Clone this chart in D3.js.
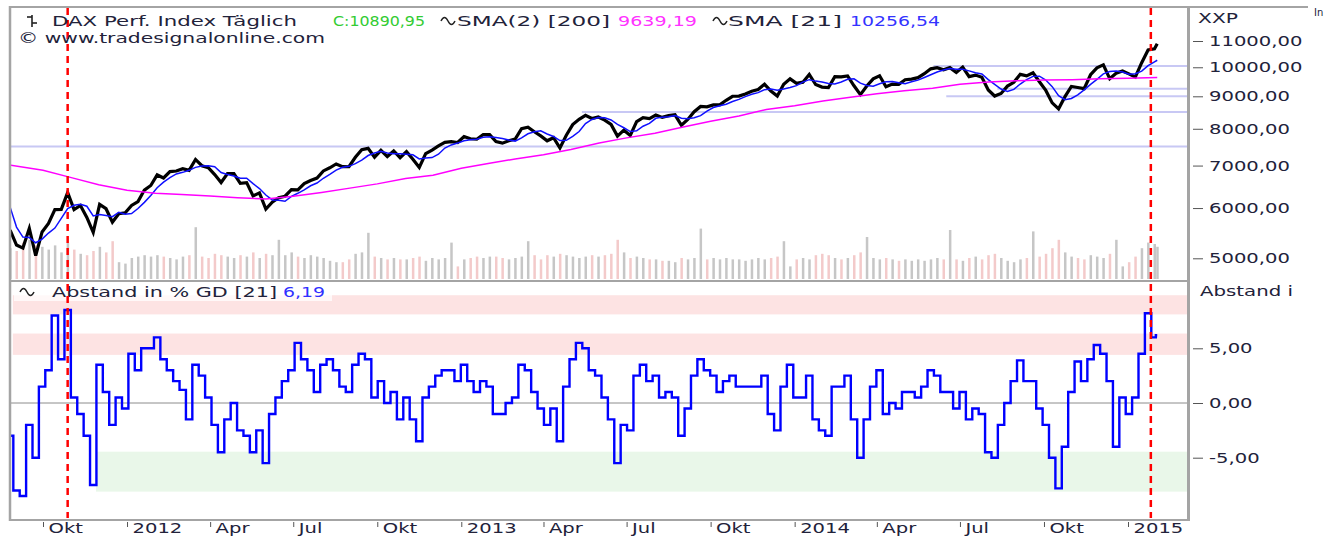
<!DOCTYPE html>
<html>
<head>
<meta charset="utf-8">
<script src="https://cdn.jsdelivr.net/npm/d3@7"></script>
<style>
    body { margin: 0; background: #fff; }
    svg { display: block; }
    text { font-family: "DejaVu Sans", Verdana, sans-serif; font-size: 14.5px; fill: #22223a; }
</style>
</head>
<body>
<svg id="chart" width="1334" height="537"></svg>
<script>
// DAX Tageschart: Kurs, GD 21 / GD 200, Volumen und Abstand in % zum GD 21

const SX = 1.35; // Schrift im Original horizontal gestreckt

// Wochenschluss ab 26.08.2011, letzter Wert 02.02.2015
const closeValues = [
    5538, 5246, 5189, 5574, 5050, 5502, 5676, 5967, 5970, 6346, 5966, 6057, 5800, 5493, 6080, 5986, 5702, 5878, 5898,
    6057, 6143, 6404, 6512, 6766, 6692, 6849, 6864, 6921, 6880, 7157, 6996, 6947, 6775, 6583, 6801, 6801, 6561, 6579, 6271,
    6339, 5978, 6130, 6229, 6263, 6416, 6410, 6557, 6630, 6689, 6865, 6944, 7040, 6972, 6970, 7214, 7412, 7451, 7216, 7398,
    7233, 7380, 7204, 7363, 7163, 6950, 7309, 7405, 7518, 7614, 7636, 7612,
    7776, 7715, 7702, 7833, 7833, 7634, 7593, 7661, 7708, 8003, 8043, 7913, 7795, 7658, 7745, 7459, 7815, 8122, 8278, 8398,
    8305, 8348, 8254, 8127, 7789, 7959, 7806, 8212, 8331, 8300, 8410, 8337, 8391, 8416, 8103, 8276, 8510, 8675, 8661, 8725,
    8725, 8870, 9001, 9007, 9078, 9168, 9225, 9405, 9172, 9006, 9400, 9589,
    9435, 9473, 9742, 9392, 9306, 9291, 9663, 9656, 9692, 9350, 9056, 9342, 9588, 9695, 9315, 9409, 9401, 9556, 9581, 9630,
    9768, 9943, 9987, 9912, 9987, 9815, 10009, 9666, 9720, 9644, 9210, 9009, 9092, 9339, 9470, 9747, 9691, 9799, 9490, 9195,
    8788, 8600, 8988, 9326, 9291, 9252, 9733, 9980, 10087, 9594, 9787, 9865,
    9765, 9648, 10168, 10649, 10694, 10891
];

const sma21Values = [
    6020, 5600, 5400, 5390, 5290, 5360, 5480, 5580, 5780, 5990, 6060, 6085, 6040, 5830, 5860, 5840, 5815, 5910, 5865,
    5880, 5990, 6125, 6280, 6460, 6590, 6700, 6790, 6830, 6880, 6955, 6990, 6995, 6970, 6825, 6775, 6740, 6685, 6685, 6555,
    6440, 6290, 6180, 6170, 6150, 6260, 6330, 6410, 6505, 6570, 6685, 6780, 6885, 6955, 6980, 7050, 7140, 7260, 7325, 7370,
    7325, 7305, 7305, 7295, 7280, 7170, 7195, 7205, 7295, 7460, 7545, 7595,
    7660, 7685, 7700, 7755, 7770, 7750, 7725, 7680, 7650, 7740, 7855, 7915, 7940, 7850, 7780, 7665, 7670, 7785, 7920, 8150,
    8275, 8330, 8325, 8260, 8130, 8030, 7920, 7940, 8075, 8160, 8310, 8345, 8360, 8390, 8310, 8295, 8325, 8390, 8530, 8640,
    8695, 8745, 8830, 8900, 8990, 9065, 9120, 9220, 9240, 9200, 9245, 9290,
    9355, 9475, 9560, 9510, 9480, 9430, 9410, 9480, 9575, 9590, 9440, 9360, 9335, 9420, 9485, 9500, 9455, 9420, 9485, 9545,
    9635, 9730, 9830, 9900, 9955, 9925, 9930, 9870, 9800, 9760, 9560, 9395, 9240, 9160, 9230, 9410, 9560, 9675, 9680, 9545,
    9320, 9020, 8890, 8930, 9050, 9215, 9400, 9570, 9765, 9850, 9865, 9830,
    9750, 9770, 9860, 10060, 10200, 10257
];

const abstandValues = [
    -3.0, -8.0, -8.5, -2.0, -5.0, 1.5, 3.0, 8.0, 4.0, 8.5, 0.5, -1.0, -3.0, -7.5, 3.5, 1.0, -2.0, 0.5, -0.5,
    4.5, 3.0, 5.0, 5.0, 6.0, 4.0, 3.0, 2.0, 1.2, -1.5, 3.5, 2.5, 0.5, -2.0, -4.5, -1.5, 0.0, -2.5, -3.0, -4.5,
    -2.5, -5.5, -1.0, 0.5, 2.0, 3.0, 5.5, 4.0, 3.0, 1.0, 3.5, 4.0, 3.0, 1.5, 1.0, 3.5, 4.5, 4.0, 0.5, 2.0,
    0.0, 1.0, -1.5, 0.5, -1.5, -3.5, 0.5, 1.5, 2.5, 3.0, 3.0, 2.0,
    3.5, 2.0, 1.0, 2.0, 1.5, -1.0, -1.0, 0.0, 0.5, 3.5, 3.0, 1.0, -0.5, -2.0, -0.5, -3.5, 1.5, 4.0, 5.5, 5.0,
    3.0, 2.5, 0.5, -1.5, -5.5, -2.0, -2.5, 2.5, 3.5, 2.0, 2.5, 0.5, 1.0, 0.5, -3.0, -0.5, 2.5, 4.0, 3.0, 2.5,
    1.0, 2.0, 2.5, 1.5, 1.5, 1.5, 1.5, 2.5, -1.0, -2.5, 1.5, 3.5,
    0.5, 0.5, 2.5, -1.5, -2.5, -3.0, 1.5, 1.5, 2.5, -1.5, -5.0, -1.5, 1.5, 3.0, -1.0, 0.0, -0.5, 1.0, 1.0, 0.5,
    1.5, 3.0, 2.5, 1.0, 1.0, -0.5, 1.0, -1.5, -0.5, -1.0, -4.5, -5.0, -2.0, 0.0, 2.0, 3.9, 2.0, 2.0, -0.5, -2.0,
    -5.0, -7.8, -4.0, 1.0, 3.8, 2.0, 4.0, 5.3, 4.5, 2.0, -4.0, 0.5,
    -1.0, 0.5, 4.5, 8.2, 6.0, 6.19
];

const volumeValues = [
    110, 100, 130, 140, 120, 115, 105, 120, 95, 130, 105, 90, 85, 100, 115, 95, 135, 60, 55,
    75, 80, 85, 80, 85, 80, 75, 70, 80, 85, 185, 80, 75, 90, 85, 80, 75, 85, 80, 95,
    75, 90, 85, 140, 85, 95, 80, 75, 85, 80, 75, 65, 60, 60, 70, 90, 95, 165, 80, 75,
    70, 75, 70, 70, 75, 80, 65, 75, 70, 75, 130, 45,
    70, 75, 80, 75, 80, 80, 75, 70, 75, 80, 135, 85, 70, 85, 80, 90, 85, 80, 75, 80,
    85, 80, 85, 90, 140, 95, 75, 80, 75, 70, 70, 65, 65, 60, 75, 70, 75, 180, 70, 75,
    70, 75, 70, 70, 65, 70, 75, 70, 75, 80, 135, 45,
    70, 75, 70, 85, 90, 85, 75, 70, 75, 85, 95, 150, 75, 70, 75, 70, 65, 70, 65, 70,
    65, 70, 75, 70, 175, 70, 65, 75, 80, 70, 85, 90, 75, 65, 60, 70, 75, 170, 80, 90,
    110, 140, 95, 80, 75, 70, 85, 80, 75, 90, 140, 45,
    60, 80, 110, 130, 125, 115
];

const sma200Dates = [
    '2011-08-26', '2011-10-01', '2011-11-01', '2011-12-01', '2012-01-01', '2012-02-01', '2012-03-01', '2012-04-01',
    '2012-05-01', '2012-06-01', '2012-07-01', '2012-08-01', '2012-09-01', '2012-10-01', '2012-11-01', '2012-12-01',
    '2013-01-01', '2013-02-01', '2013-03-01', '2013-04-01', '2013-05-01', '2013-06-01', '2013-07-01', '2013-08-01',
    '2013-09-01', '2013-10-01', '2013-11-01', '2013-12-01', '2014-01-01', '2014-02-01', '2014-03-01', '2014-04-01',
    '2014-05-01', '2014-06-01', '2014-07-01', '2014-08-01', '2014-09-01', '2014-10-01', '2014-11-01', '2014-12-01',
    '2015-01-01', '2015-02-02'
];
const sma200Values = [
    7010, 6880, 6700, 6530, 6400, 6330, 6300, 6270,
    6230, 6200, 6260, 6350, 6450, 6550, 6680, 6760,
    6930, 7060, 7170, 7280, 7420, 7600, 7740, 7870,
    8050, 8220, 8380, 8580, 8700, 8850, 8960, 9080,
    9180, 9270, 9400, 9480, 9520, 9550, 9560, 9590,
    9610, 9639
];

// horizontale Marken im Kurschart
const levelValues = [7500, 8500, 9000, 9250, 10050];
const levelStarts = ['2011-08-26', '2013-05-13', '2014-06-16', '2014-08-11', '2014-06-02'];

// Zonen im Oszillator
const bandLow = [8.1, 4.4, -8.1];
const bandHigh = [9.85, 6.35, -4.45];
const bandStarts = ['2011-08-29', '2011-08-29', '2011-11-28'];
const bandColors = ['#fde3e3', '#fde3e3', '#e9f7e9'];

const markerDates = ['2011-10-28', '2015-01-26'];

const tickDates = ['2011-10-01', '2012-01-01', '2012-04-01', '2012-07-01', '2012-10-01', '2013-01-01', '2013-04-01',
    '2013-07-01', '2013-10-01', '2014-01-01', '2014-04-01', '2014-07-01', '2014-10-01', '2015-01-01'];
const tickLabels = ['Okt', '2012', 'Apr', 'Jul', 'Okt', '2013', 'Apr', 'Jul', 'Okt', '2014', 'Apr', 'Jul', 'Okt', '2015'];

const priceTicks = [5000, 6000, 7000, 8000, 9000, 10000, 11000];
const abstandTicks = [5, 0, -5];

// ---------------------------------------------------------------

const parse = d3.timeParse('%Y-%m-%d');
const firstFriday = parse('2011-08-26');
const dates = closeValues.map((v, i) =>
    i < closeValues.length - 1 ? d3.timeWeek.offset(firstFriday, i) : parse('2015-02-02'));

const plotLeft = 11, plotRight = 1187;
const priceTop = 8, priceBottom = 280;
const oscTop = 282, oscBottom = 518;

const de = d3.formatLocale({ decimal: ',', thousands: '.', grouping: [3], currency: ['', ' €'], minus: '-' });
const fmt = de.format('.2f');

const x = d3.scaleTime()
    .domain([parse('2011-10-01'), parse('2015-01-01')])
    .range([43, 1128]);
const y = d3.scaleLog()
    .domain([5000, 11000])
    .range([258.3, 41]);
const yVol = d3.scaleLinear()
    .domain([0, 200])
    .range([priceBottom - 1, priceBottom - 57]);
const yOsc = d3.scaleLinear()
    .domain([-5, 5])
    .range([457.7, 348.3]);

const svg = d3.select('#chart');
const defs = svg.append('defs');
defs.append('clipPath').attr('id', 'clipPrice')
    .append('rect').attr('x', plotLeft).attr('y', priceTop)
    .attr('width', plotRight - plotLeft).attr('height', priceBottom - priceTop);
defs.append('clipPath').attr('id', 'clipOsc')
    .append('rect').attr('x', plotLeft).attr('y', oscTop)
    .attr('width', plotRight - plotLeft).attr('height', oscBottom - oscTop);

// Text mit Streckung; len = Breite im Bild
function addText(parent, px, py, str, color, len) {
    const t = parent.append('text')
        .attr('transform', `translate(${px},${py}) scale(${SX},1)`)
        .style('fill', color || '#22223a')
        .text(str);
    if (len) {
        t.attr('textLength', len / SX).attr('lengthAdjust', 'spacingAndGlyphs');
    }
    return t;
}

function wave(parent, px, py) {
    parent.append('path')
        .attr('d', `M${px},${py} q3.5,-7 7,0 t7,0`)
        .attr('fill', 'none')
        .attr('stroke', '#222')
        .attr('stroke-width', 1.5);
}

// ---------- Kurspanel ----------
const price = svg.append('g').attr('clip-path', 'url(#clipPrice)');

// Volumen
price.selectAll('rect.vol')
    .data(volumeValues)
    .enter().append('rect')
    .attr('class', 'vol')
    .attr('x', (d, i) => x(dates[i]) - 1)
    .attr('width', 2.5)
    .attr('y', d => yVol(d))
    .attr('height', d => yVol(0) - yVol(d))
    .attr('fill', (d, i) => i > 0 && closeValues[i] < closeValues[i - 1] ? '#f3caca' : '#c6c6c6');

// Marken
price.selectAll('line.level')
    .data(levelValues)
    .enter().append('line')
    .attr('class', 'level')
    .attr('x1', (d, i) => x(parse(levelStarts[i])))
    .attr('x2', plotRight)
    .attr('y1', d => y(d))
    .attr('y2', d => y(d))
    .attr('stroke', '#c8c8f4')
    .attr('stroke-width', 2);

const lineOf = (values, dts) => d3.line()
    .x((d, i) => x(dts[i]))
    .y(d => y(d))(values);

price.append('path')
    .attr('d', lineOf(closeValues, dates))
    .attr('fill', 'none')
    .attr('stroke', '#000')
    .attr('stroke-width', 3.2);

price.append('path')
    .attr('d', lineOf(sma21Values, dates))
    .attr('fill', 'none')
    .attr('stroke', '#1010ff')
    .attr('stroke-width', 1.5);

price.append('path')
    .attr('d', lineOf(sma200Values, sma200Dates.map(parse)))
    .attr('fill', 'none')
    .attr('stroke', '#ff00ff')
    .attr('stroke-width', 1.5);

// ---------- Oszillator ----------
const osc = svg.append('g').attr('clip-path', 'url(#clipOsc)');

osc.selectAll('rect.band')
    .data(bandLow)
    .enter().append('rect')
    .attr('class', 'band')
    .attr('x', (d, i) => x(parse(bandStarts[i])))
    .attr('width', (d, i) => plotRight - x(parse(bandStarts[i])))
    .attr('y', (d, i) => yOsc(bandHigh[i]))
    .attr('height', (d, i) => yOsc(d) - yOsc(bandHigh[i]))
    .attr('fill', (d, i) => bandColors[i]);

osc.append('line')
    .attr('x1', plotLeft).attr('x2', plotRight)
    .attr('y1', yOsc(0)).attr('y2', yOsc(0))
    .attr('stroke', '#8c8c8c')
    .attr('stroke-width', 1);

osc.append('path')
    .attr('d', d3.line()
        .x((d, i) => x(dates[i]))
        .y(d => yOsc(d))
        .curve(d3.curveStep)(abstandValues))
    .attr('fill', 'none')
    .attr('stroke', '#0000ff')
    .attr('stroke-width', 2.4);

// Legende Oszillator
osc.append('rect')
    .attr('x', 14).attr('y', oscTop + 1)
    .attr('width', 318).attr('height', 18)
    .attr('fill', '#fff').attr('fill-opacity', 0.75);
wave(svg, 20, 292);
addText(svg, 52, 297, 'Abstand in % GD [21]', null, 225);
addText(svg, 283, 297, '6,19', '#3030ff', 42);

// rote Markierungen
svg.selectAll('line.marker')
    .data(markerDates)
    .enter().append('line')
    .attr('class', 'marker')
    .attr('x1', d => x(parse(d)))
    .attr('x2', d => x(parse(d)))
    .attr('y1', priceTop)
    .attr('y2', oscBottom)
    .attr('stroke', '#ff0000')
    .attr('stroke-width', 2.5)
    .attr('stroke-dasharray', '7,5');

// ---------- Rahmen ----------
const frame = svg.append('g')
    .attr('stroke', '#a4a4a4')
    .attr('fill', 'none');
frame.append('line').attr('x1', 10).attr('x2', 10).attr('y1', 6).attr('y2', 521).attr('stroke-width', 2.5);
frame.append('line').attr('x1', 9).attr('x2', 1308).attr('y1', 7).attr('y2', 7).attr('stroke-width', 2);
frame.append('line').attr('x1', 1188.5).attr('x2', 1188.5).attr('y1', 6).attr('y2', 521).attr('stroke-width', 3);
frame.append('line').attr('x1', 9).attr('x2', 1190).attr('y1', 281).attr('y2', 281).attr('stroke-width', 2);
frame.append('line').attr('x1', 9).attr('x2', 1190).attr('y1', 520).attr('y2', 520).attr('stroke-width', 2);

// ---------- Achsen ----------
const styleAxis = (g, dx) => {
    g.select('.domain').remove();
    g.selectAll('.tick line').attr('stroke', '#555');
    g.selectAll('.tick text')
        .attr('x', dx / SX)
        .attr('transform', `scale(${SX},1)`)
        .style('font-size', '14.5px')
        .style('fill', '#22223a')
        .attr('font-family', null);
};

svg.append('g')
    .attr('transform', 'translate(1193,0)')
    .call(d3.axisRight(y).tickValues(priceTicks).tickFormat(fmt).tickSize(10))
    .call(g => styleAxis(g, 16));

svg.append('g')
    .attr('transform', 'translate(1193,0)')
    .call(d3.axisRight(yOsc).tickValues(abstandTicks).tickFormat(fmt).tickSize(10))
    .call(g => styleAxis(g, 16));

svg.append('g')
    .attr('transform', 'translate(0,522)')
    .call(d3.axisBottom(x).tickValues(tickDates.map(parse)).tickFormat((d, i) => tickLabels[i]).tickSize(5))
    .call(g => {
        styleAxis(g, 5);
        g.selectAll('.tick text')
            .attr('text-anchor', 'start')
            .attr('y', 11)
            .attr('dy', 0);
    });

addText(svg, 1198, 23, 'XXP', null, 40);
addText(svg, 1200, 296, 'Abstand i', null, 93);
svg.append('text')
    .attr('x', 1314).attr('y', 16)
    .style('font-size', '10px')
    .text('In');

// ---------- Legende Kurs ----------
const ohlc = svg.append('g').attr('stroke', '#222').attr('stroke-width', 1.6);
ohlc.append('line').attr('x1', 32).attr('x2', 32).attr('y1', 15).attr('y2', 27);
ohlc.append('line').attr('x1', 27).attr('x2', 32).attr('y1', 17).attr('y2', 17);
ohlc.append('line').attr('x1', 32).attr('x2', 37).attr('y1', 23).attr('y2', 23);

addText(svg, 52, 26, 'DAX Perf. Index  Täglich', null, 245);
addText(svg, 333, 26, 'C:10890,95', '#33cc33', 92);
wave(svg, 441, 21);
addText(svg, 457, 26, 'SMA(2) [200]', null, 153);
addText(svg, 618, 26, '9639,19', '#ff33ff', 79);
wave(svg, 713, 21);
addText(svg, 728, 26, 'SMA [21]', null, 114);
addText(svg, 850, 26, '10256,54', '#3333ff', 90);
addText(svg, 18, 43, '© www.tradesignalonline.com', null, 307);
</script>
</body>
</html>
